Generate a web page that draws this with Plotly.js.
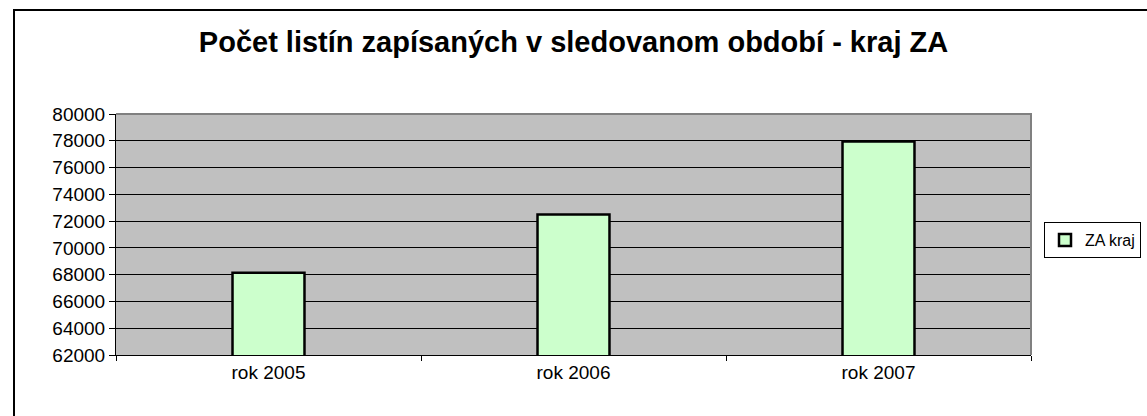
<!DOCTYPE html>
<html>
<head>
<meta charset="utf-8">
<script src="https://cdn.plot.ly/plotly-3.0.1.min.js"></script>
<style>
  html, body { margin: 0; padding: 0; background: #fff; }
  #chart { width: 1147px; height: 416px; }
</style>
</head>
<body>
<div id="chart"></div>
<script>
var years = ['rok 2005', 'rok 2006', 'rok 2007'];
var counts = [68150, 72500, 77950];
var seriesName = 'ZA kraj';
var yTicks = [62000, 64000, 66000, 68000, 70000, 72000, 74000, 76000, 78000, 80000];

var trace = {
  x: years,
  y: counts,
  name: seriesName,
  type: 'bar',
  width: 0.236,
  marker: {color: '#CCFFCC', line: {color: '#000000', width: 2.5}},
  showlegend: true,
  hoverinfo: 'x+y'
};

// plot area in pixels: left 116, right 1031, top 114, bottom 355
var plotW = 915, plotH = 241;
function px(x) { return (x - 116) / plotW; }
function py(y) { return (355 - y) / plotH; }

var layout = {
  width: 1147,
  height: 416,
  margin: {l: 116, r: 116, t: 114, b: 61, pad: 0, autoexpand: false},
  paper_bgcolor: '#ffffff',
  plot_bgcolor: '#C0C0C0',
  font: {family: 'Liberation Sans, Arial, sans-serif', size: 19, color: '#000'},
  title: {
    text: '<b>Počet listín zapísaných v sledovanom období - kraj ZA</b>',
    font: {family: 'Liberation Sans, Arial, sans-serif', size: 29, color: '#000'},
    x: 0.5,
    xanchor: 'center',
    y: 1 - 42 / 416,
    yanchor: 'middle'
  },
  xaxis: {
    type: 'category',
    showline: true,
    linecolor: '#000',
    linewidth: 1,
    ticks: 'outside',
    tickson: 'boundaries',
    ticklen: 5,
    tickcolor: '#000',
    showgrid: false,
    zeroline: false
  },
  yaxis: {
    range: [62000, 80000],
    tickvals: yTicks,
    ticktext: yTicks.map(String),
    showline: true,
    linecolor: '#000',
    linewidth: 1,
    ticks: 'outside',
    ticklen: 6,
    tickcolor: '#000',
    showgrid: true,
    gridcolor: '#000',
    gridwidth: 1,
    zeroline: false
  },
  showlegend: true,
  legend: {
    x: px(1044),
    xanchor: 'left',
    y: py(240),
    yanchor: 'middle',
    bgcolor: '#ffffff',
    bordercolor: '#000',
    borderwidth: 1,
    font: {size: 16},
    itemwidth: 30
  },
  shapes: [
    // outer chart frame (cropped on right and bottom in original)
    {type: 'rect', xref: 'paper', yref: 'paper',
     x0: px(14), x1: px(1200), y0: py(430), y1: py(10),
     line: {color: '#000', width: 2}, fillcolor: 'rgba(0,0,0,0)', layer: 'below'},
    // plot area top and right border
    {type: 'path', xref: 'paper', yref: 'paper',
     path: 'M 0 1 L 1 1 L 1 0', line: {color: '#808080', width: 2}, layer: 'above'}
  ]
};

Plotly.newPlot('chart', [trace], layout, {displayModeBar: false, staticPlot: true});
</script>
</body>
</html>
